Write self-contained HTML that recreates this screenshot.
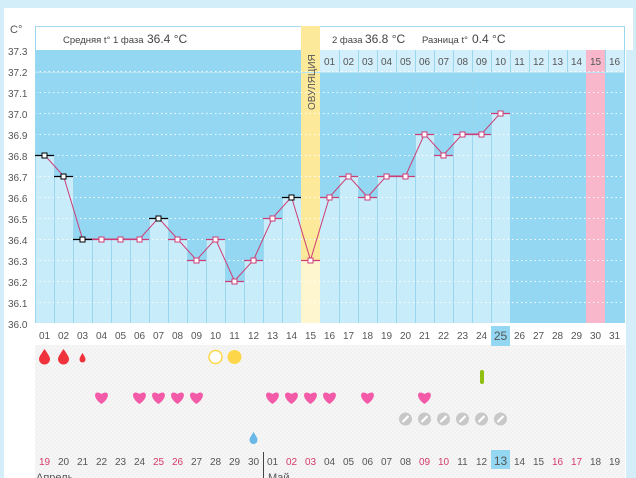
<!DOCTYPE html><html><head><meta charset="utf-8"><style>body{margin:0;background:#d4eef9}svg{display:block}text{font-family:"Liberation Sans","DejaVu Sans",sans-serif}</style></head><body>
<svg width="636" height="478" xmlns="http://www.w3.org/2000/svg">
<defs>
<pattern id="hz" width="4" height="4" patternUnits="userSpaceOnUse"><rect width="4" height="4" fill="#f6f6f6"/><path d="M0 4L4 0" stroke="#efefef" stroke-width="1"/></pattern>
<g id="ht"><path d="M0 6 C-10 -1,-7 -9,0 -4 C7 -9,10 -1,0 6Z" fill="#f35aa8"/></g>
<g id="pill"><circle r="6.5" fill="#c8c8c8"/><path d="M-3 3L3 -3" stroke="#fff" stroke-width="2.2"/></g>
</defs>
<rect x="0" y="0" width="636" height="478" fill="#d4eef9"/>
<rect x="4" y="8" width="629" height="470" fill="#fff"/>
<rect x="626" y="50" width="10" height="428" fill="#d4eef9"/>
<rect x="35" y="345" width="590" height="133" fill="url(#hz)"/>
<text x="10" y="33" font-size="11" fill="#555">C°</text>
<rect x="35.5" y="26.5" width="589" height="24" fill="#fff" stroke="#a8dcef"/>
<text x="63" y="43" font-size="9.5" fill="#444">Средняя t° 1 фаза</text>
<text x="147" y="43" font-size="12" fill="#444">36.4 °C</text>
<circle cx="311" cy="38.5" r="6.5" fill="#fdd64a"/>
<text x="332" y="43" font-size="9.5" fill="#444">2 фаза</text>
<text x="365" y="43" font-size="12" fill="#444">36.8 °C</text>
<text x="422" y="43" font-size="9.5" fill="#444">Разница t°</text>
<text x="472" y="43" font-size="12" fill="#444">0.4 °C</text>
<rect x="35" y="50" width="589" height="273" fill="#93d7f2"/>
<rect x="301" y="26" width="19" height="297" fill="#fde99a"/>
<rect x="320" y="50" width="304" height="22" fill="#d3effb"/>
<rect x="586" y="50" width="19" height="273" fill="#f8b7cb"/>
<g fill="#c9ecfb">
<rect x="35" y="155" width="19" height="168"/><rect x="54" y="176" width="19" height="147"/><rect x="73" y="239" width="19" height="84"/><rect x="92" y="239" width="19" height="84"/><rect x="111" y="239" width="19" height="84"/><rect x="130" y="239" width="19" height="84"/><rect x="149" y="218" width="19" height="105"/><rect x="168" y="239" width="19" height="84"/><rect x="187" y="260" width="19" height="63"/><rect x="206" y="239" width="19" height="84"/><rect x="225" y="281" width="19" height="42"/><rect x="244" y="260" width="19" height="63"/><rect x="263" y="218" width="19" height="105"/><rect x="282" y="197" width="19" height="126"/>
<rect x="301" y="260" width="19" height="63" fill="#fef6cf"/>
<rect x="320" y="197" width="19" height="126"/><rect x="339" y="176" width="19" height="147"/><rect x="358" y="197" width="19" height="126"/><rect x="377" y="176" width="19" height="147"/><rect x="396" y="176" width="19" height="147"/><rect x="415" y="134" width="19" height="189"/><rect x="434" y="155" width="19" height="168"/><rect x="453" y="134" width="19" height="189"/><rect x="472" y="134" width="19" height="189"/><rect x="491" y="113" width="19" height="210"/>
</g>
<g stroke="#fff" stroke-dasharray="1.5 3" stroke-width="1" opacity="0.9">
<line x1="35" x2="624" y1="71.5" y2="71.5"/><line x1="35" x2="624" y1="92.5" y2="92.5"/><line x1="35" x2="624" y1="113.5" y2="113.5"/><line x1="35" x2="624" y1="134.5" y2="134.5"/><line x1="35" x2="624" y1="155.5" y2="155.5"/><line x1="35" x2="624" y1="176.5" y2="176.5"/><line x1="35" x2="624" y1="197.5" y2="197.5"/><line x1="35" x2="624" y1="218.5" y2="218.5"/><line x1="35" x2="624" y1="239.5" y2="239.5"/><line x1="35" x2="624" y1="260.5" y2="260.5"/><line x1="35" x2="624" y1="281.5" y2="281.5"/><line x1="35" x2="624" y1="302.5" y2="302.5"/>
</g>
<g stroke="#9ad6ee" stroke-width="1">
<line x1="54.5" x2="54.5" y1="155" y2="323"/><line x1="73.5" x2="73.5" y1="176" y2="323"/><line x1="92.5" x2="92.5" y1="239" y2="323"/><line x1="111.5" x2="111.5" y1="239" y2="323"/><line x1="130.5" x2="130.5" y1="239" y2="323"/><line x1="149.5" x2="149.5" y1="218" y2="323"/><line x1="168.5" x2="168.5" y1="218" y2="323"/><line x1="187.5" x2="187.5" y1="239" y2="323"/><line x1="206.5" x2="206.5" y1="239" y2="323"/><line x1="225.5" x2="225.5" y1="239" y2="323"/><line x1="244.5" x2="244.5" y1="260" y2="323"/><line x1="263.5" x2="263.5" y1="218" y2="323"/><line x1="282.5" x2="282.5" y1="197" y2="323"/><line x1="339.5" x2="339.5" y1="50" y2="323"/><line x1="358.5" x2="358.5" y1="50" y2="323"/><line x1="377.5" x2="377.5" y1="50" y2="323"/><line x1="396.5" x2="396.5" y1="50" y2="323"/><line x1="415.5" x2="415.5" y1="50" y2="323"/><line x1="434.5" x2="434.5" y1="50" y2="323"/><line x1="453.5" x2="453.5" y1="50" y2="323"/><line x1="472.5" x2="472.5" y1="50" y2="323"/><line x1="491.5" x2="491.5" y1="50" y2="323"/><line x1="510.5" x2="510.5" y1="50" y2="72"/><line x1="529.5" x2="529.5" y1="50" y2="72"/><line x1="548.5" x2="548.5" y1="50" y2="72"/><line x1="567.5" x2="567.5" y1="50" y2="72"/><line x1="605.5" x2="605.5" y1="50" y2="72"/>
<line x1="35.5" x2="35.5" y1="26" y2="323"/><line x1="624.5" x2="624.5" y1="26" y2="323"/><line x1="35" x2="624" y1="72.5" y2="72.5" stroke="#b9e4f5"/>
</g>
<text transform="translate(315,110) rotate(-90)" font-size="10" fill="#555">ОВУЛЯЦИЯ</text>
<g font-size="10" fill="#555" text-anchor="middle">
<text x="329.5" y="65">01</text><text x="348.5" y="65">02</text><text x="367.5" y="65">03</text><text x="386.5" y="65">04</text><text x="405.5" y="65">05</text><text x="424.5" y="65">06</text><text x="443.5" y="65">07</text><text x="462.5" y="65">08</text><text x="481.5" y="65">09</text><text x="500.5" y="65">10</text><text x="519.5" y="65">11</text><text x="538.5" y="65">12</text><text x="557.5" y="65">13</text><text x="576.5" y="65">14</text><text x="595.5" y="65">15</text><text x="614.5" y="65">16</text>
</g>
<g font-size="10" fill="#555">
<text x="8" y="55">37.3</text><text x="8" y="76">37.2</text><text x="8" y="97">37.1</text><text x="8" y="118">37.0</text><text x="8" y="139">36.9</text><text x="8" y="160">36.8</text><text x="8" y="181">36.7</text><text x="8" y="202">36.6</text><text x="8" y="223">36.5</text><text x="8" y="244">36.4</text><text x="8" y="265">36.3</text><text x="8" y="286">36.2</text><text x="8" y="307">36.1</text><text x="8" y="328">36.0</text>
</g>
<polyline fill="none" stroke="#cc3e75" stroke-width="1" points="44.5,155 63.5,176 82.5,239 101.5,239 120.5,239 139.5,239 158.5,218 177.5,239 196.5,260 215.5,239 234.5,281 253.5,260 272.5,218 291.5,197 310.5,260 329.5,197 348.5,176 367.5,197 386.5,176 405.5,176 424.5,134 443.5,155 462.5,134 481.5,134 500.5,113"/>
<g stroke="#000" stroke-width="1.3">
<line x1="35" x2="54" y1="155.5" y2="155.5"/><line x1="54" x2="73" y1="176.5" y2="176.5"/><line x1="73" x2="92" y1="239.5" y2="239.5"/><line x1="149" x2="168" y1="218.5" y2="218.5"/><line x1="282" x2="301" y1="197.5" y2="197.5"/>
</g>
<g stroke="#cc3e75" stroke-width="1.3">
<line x1="92" x2="149" y1="239.5" y2="239.5"/><line x1="168" x2="187" y1="239.5" y2="239.5"/><line x1="187" x2="206" y1="260.5" y2="260.5"/><line x1="206" x2="225" y1="239.5" y2="239.5"/><line x1="225" x2="244" y1="281.5" y2="281.5"/><line x1="244" x2="263" y1="260.5" y2="260.5"/><line x1="263" x2="282" y1="218.5" y2="218.5"/><line x1="301" x2="320" y1="260.5" y2="260.5"/><line x1="320" x2="339" y1="197.5" y2="197.5"/><line x1="339" x2="358" y1="176.5" y2="176.5"/><line x1="358" x2="377" y1="197.5" y2="197.5"/><line x1="377" x2="415" y1="176.5" y2="176.5"/><line x1="415" x2="434" y1="134.5" y2="134.5"/><line x1="434" x2="453" y1="155.5" y2="155.5"/><line x1="453" x2="491" y1="134.5" y2="134.5"/><line x1="491" x2="510" y1="113.5" y2="113.5"/>
</g>
<g fill="#fff" stroke="#000" stroke-width="1">
<rect x="42" y="153" width="5" height="5"/><rect x="61" y="174" width="5" height="5"/><rect x="80" y="237" width="5" height="5"/><rect x="156" y="216" width="5" height="5"/><rect x="289" y="195" width="5" height="5"/>
</g>
<g fill="#fff" stroke="#cc3e75" stroke-width="1">
<rect x="99" y="237" width="5" height="5"/><rect x="118" y="237" width="5" height="5"/><rect x="137" y="237" width="5" height="5"/><rect x="175" y="237" width="5" height="5"/><rect x="194" y="258" width="5" height="5"/><rect x="213" y="237" width="5" height="5"/><rect x="232" y="279" width="5" height="5"/><rect x="251" y="258" width="5" height="5"/><rect x="270" y="216" width="5" height="5"/><rect x="308" y="258" width="5" height="5"/><rect x="327" y="195" width="5" height="5"/><rect x="346" y="174" width="5" height="5"/><rect x="365" y="195" width="5" height="5"/><rect x="384" y="174" width="5" height="5"/><rect x="403" y="174" width="5" height="5"/><rect x="422" y="132" width="5" height="5"/><rect x="441" y="153" width="5" height="5"/><rect x="460" y="132" width="5" height="5"/><rect x="479" y="132" width="5" height="5"/><rect x="498" y="111" width="5" height="5"/>
</g>
<path d="M200 307 A6 6 0 1 0 205 318 A5 5 0 0 1 200 307Z" fill="#f0a020"/>
<rect x="491" y="326" width="19" height="20" fill="#93d7f2"/>
<g font-size="10" fill="#555" text-anchor="middle">
<text x="44.5" y="339">01</text><text x="63.5" y="339">02</text><text x="82.5" y="339">03</text><text x="101.5" y="339">04</text><text x="120.5" y="339">05</text><text x="139.5" y="339">06</text><text x="158.5" y="339">07</text><text x="177.5" y="339">08</text><text x="196.5" y="339">09</text><text x="215.5" y="339">10</text><text x="234.5" y="339">11</text><text x="253.5" y="339">12</text><text x="272.5" y="339">13</text><text x="291.5" y="339">14</text><text x="310.5" y="339">15</text><text x="329.5" y="339">16</text><text x="348.5" y="339">17</text><text x="367.5" y="339">18</text><text x="386.5" y="339">19</text><text x="405.5" y="339">20</text><text x="424.5" y="339">21</text><text x="443.5" y="339">22</text><text x="462.5" y="339">23</text><text x="481.5" y="339">24</text><text x="500.5" y="340" font-size="12">25</text><text x="519.5" y="339">26</text><text x="538.5" y="339">27</text><text x="557.5" y="339">28</text><text x="576.5" y="339">29</text><text x="595.5" y="339">30</text><text x="614.5" y="339">31</text>
</g>
<g fill="#f0323c">
<path d="M44.5 349 C41 354,39 357,39 359 A5.5 5.5 0 0 0 50 359 C50 357,48 354,44.5 349Z"/>
<path d="M63.5 349 C60 354,58 357,58 359 A5.5 5.5 0 0 0 69 359 C69 357,67 354,63.5 349Z"/>
<path d="M82.5 353 C80.5 356,79.5 358,79.5 359.5 A3 3 0 0 0 85.5 359.5 C85.5 358,84.5 356,82.5 353Z"/>
</g>
<circle cx="215.5" cy="357" r="6.5" fill="#fff" stroke="#fdd64a" stroke-width="1.5"/>
<circle cx="234.5" cy="357" r="7" fill="#fdd64a"/>
<rect x="480" y="370" width="4" height="14" rx="2" fill="#8fbf10"/>
<use href="#ht" x="101.5" y="398"/><use href="#ht" x="139.5" y="398"/><use href="#ht" x="158.5" y="398"/><use href="#ht" x="177.5" y="398"/><use href="#ht" x="196.5" y="398"/><use href="#ht" x="272.5" y="398"/><use href="#ht" x="291.5" y="398"/><use href="#ht" x="310.5" y="398"/><use href="#ht" x="329.5" y="398"/><use href="#ht" x="367.5" y="398"/><use href="#ht" x="424.5" y="398"/>
<use href="#pill" x="405.5" y="419"/><use href="#pill" x="424.5" y="419"/><use href="#pill" x="443.5" y="419"/><use href="#pill" x="462.5" y="419"/><use href="#pill" x="481.5" y="419"/><use href="#pill" x="500.5" y="419"/>
<path d="M253.5 432 C251 436,249.5 438,249.5 440 A4 4 0 0 0 257.5 440 C257.5 438,256 436,253.5 432Z" fill="#6ab8e8"/>
<line x1="263.5" x2="263.5" y1="452" y2="478" stroke="#444"/>
<rect x="491" y="450" width="19" height="19" fill="#93d7f2"/>
<g font-size="10" fill="#555" text-anchor="middle">
<text x="44.5" y="465" fill="#d63a6a">19</text><text x="63.5" y="465">20</text><text x="82.5" y="465">21</text><text x="101.5" y="465">22</text><text x="120.5" y="465">23</text><text x="139.5" y="465">24</text><text x="158.5" y="465" fill="#d63a6a">25</text><text x="177.5" y="465" fill="#d63a6a">26</text><text x="196.5" y="465">27</text><text x="215.5" y="465">28</text><text x="234.5" y="465">29</text><text x="253.5" y="465">30</text><text x="272.5" y="465">01</text><text x="291.5" y="465" fill="#d63a6a">02</text><text x="310.5" y="465" fill="#d63a6a">03</text><text x="329.5" y="465">04</text><text x="348.5" y="465">05</text><text x="367.5" y="465">06</text><text x="386.5" y="465">07</text><text x="405.5" y="465">08</text><text x="424.5" y="465" fill="#d63a6a">09</text><text x="443.5" y="465" fill="#d63a6a">10</text><text x="462.5" y="465">11</text><text x="481.5" y="465">12</text><text x="500.5" y="465" font-size="12">13</text><text x="519.5" y="465">14</text><text x="538.5" y="465">15</text><text x="557.5" y="465" fill="#d63a6a">16</text><text x="576.5" y="465" fill="#d63a6a">17</text><text x="595.5" y="465">18</text><text x="614.5" y="465">19</text>
</g>
<text x="36" y="481" font-size="11" fill="#555">Апрель</text>
<text x="268" y="481" font-size="11" fill="#555">Май</text>
</svg>
</body></html>
